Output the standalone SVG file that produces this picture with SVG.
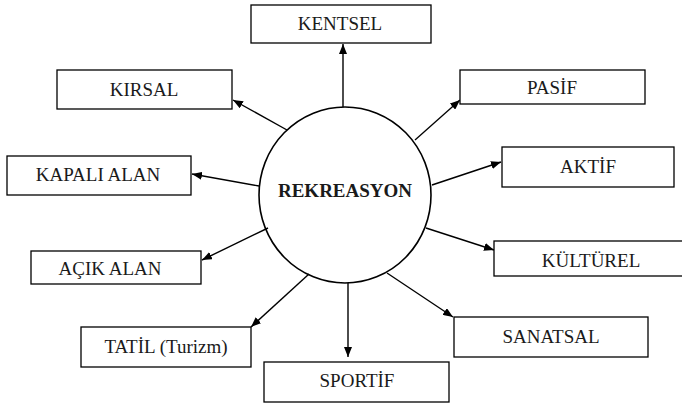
<svg xmlns="http://www.w3.org/2000/svg" width="682" height="405" viewBox="0 0 682 405">
<style>
.box{fill:#fff;stroke:#000;stroke-width:1.3}
.lbl{font-family:"Times New Roman",Times,serif;font-size:19px;fill:#1a1a1a;text-anchor:middle}
.c{stroke:#000;stroke-width:1.4;fill:none;marker-end:url(#ah)}
</style>
<defs>
<marker id="ah" viewBox="0 0 10 8" refX="10" refY="4" markerWidth="10" markerHeight="8" markerUnits="userSpaceOnUse" orient="auto">
<path d="M0,0 L10,4 L0,8 Z" fill="#000"/>
</marker>
</defs>
<rect width="682" height="405" fill="#fff"/>
<g id="connectors">
<line class="c" x1="343" y1="107" x2="343" y2="44"/>
<line class="c" x1="287" y1="130" x2="233" y2="100"/>
<line class="c" x1="259" y1="186" x2="192" y2="174"/>
<line class="c" x1="415" y1="140" x2="460" y2="100"/>
<line class="c" x1="432" y1="185" x2="501" y2="162"/>
<line class="c" x1="268" y1="228" x2="202" y2="260"/>
<line class="c" x1="309" y1="274" x2="251" y2="327"/>
<line class="c" x1="348" y1="283" x2="348" y2="357"/>
<line class="c" x1="426" y1="228" x2="494" y2="250"/>
<line class="c" x1="387" y1="273" x2="453" y2="317"/>
</g>
<g id="rekreasyon">
<ellipse cx="345" cy="195" rx="86" ry="88" fill="none" stroke="#000" stroke-width="1.6"/>
<text class="lbl" x="345" y="197" font-weight="bold">REKREASYON</text>
</g>
<g id="kentsel"><rect class="box" x="251" y="5" width="180" height="38"/><text class="lbl" x="340" y="30">KENTSEL</text></g>
<g id="kirsal"><rect class="box" x="57" y="70" width="175" height="39"/><text class="lbl" x="144" y="96">KIRSAL</text></g>
<g id="kapali-alan"><rect class="box" x="7" y="156" width="184" height="39"/><text class="lbl" x="98" y="181">KAPALI ALAN</text></g>
<g id="pasif"><rect class="box" x="460" y="70" width="185" height="34"/><text class="lbl" x="552" y="94">PASİF</text></g>
<g id="aktif"><rect class="box" x="502" y="147" width="172" height="40"/><text class="lbl" x="588" y="173">AKTİF</text></g>
<g id="acik-alan"><rect class="box" x="31" y="251" width="170" height="33"/><text class="lbl" x="110" y="275">AÇIK ALAN</text></g>
<g id="tatil"><rect class="box" x="81" y="327" width="170" height="40"/><text class="lbl" x="166" y="353">TATİL (Turizm)</text></g>
<g id="sportif"><rect class="box" x="264" y="362" width="185" height="40"/><text class="lbl" x="357" y="387">SPORTİF</text></g>
<g id="kulturel"><rect class="box" x="494" y="241" width="192" height="35"/><text class="lbl" x="591" y="267">KÜLTÜREL</text></g>
<g id="sanatsal"><rect class="box" x="454" y="317" width="194" height="40"/><text class="lbl" x="551" y="343">SANATSAL</text></g>
</svg>
